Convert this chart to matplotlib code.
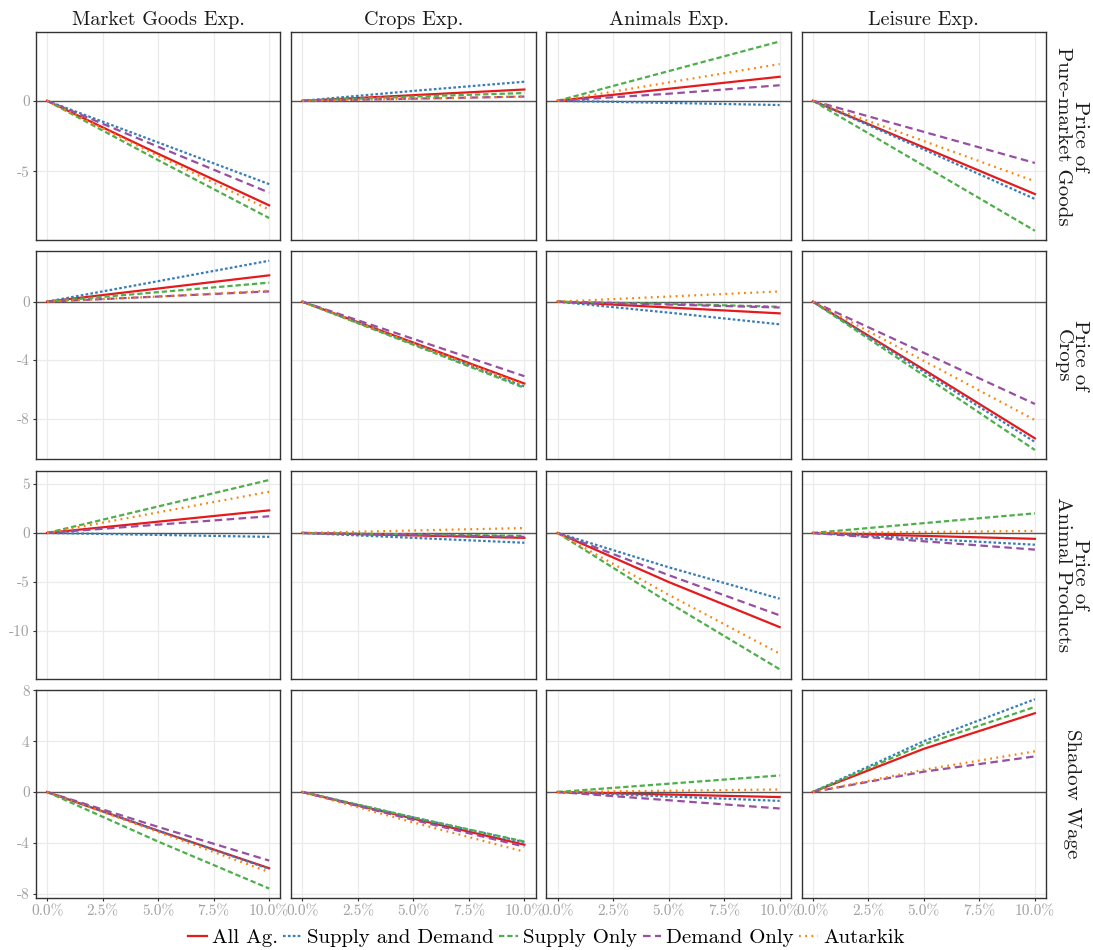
import numpy as np
import matplotlib
matplotlib.use('Agg')
import matplotlib.pyplot as plt

plt.rcParams['font.family'] = ['cmr10', 'DejaVu Serif']
plt.rcParams['axes.unicode_minus'] = False
plt.rcParams['axes.formatter.use_mathtext'] = False

# x positions (share of shock) and labels
x_vals = [0.0, 0.05, 0.10]
x_ticks = [0.0, 0.025, 0.05, 0.075, 0.10]
x_labels = ['0.0%', '2.5%', '5.0%', '7.5%', '10.0%']

col_titles = ['Market Goods Exp.', 'Crops Exp.', 'Animals Exp.', 'Leisure Exp.']
row_titles = ['Price of\nPure-market Goods', 'Price of\nCrops', 'Price of\nAnimal Products', 'Shadow Wage']
row_yticks = [[-5, 0], [-8, -4, 0], [-10, -5, 0, 5], [-8, -4, 0, 4, 8]]

series_names = ['All Ag.', 'Supply and Demand', 'Supply Only', 'Demand Only', 'Autarkik']
series_colors = ['#E41A1C', '#377EB8', '#4DAF4A', '#984EA3', '#FF7F00']
series_dashes = [None, (1.2, 1.0), (2.4, 1.3), (3.4, 2.0), (0.8, 2.0)]

# each list: one entry per column (Market Goods, Crops, Animals, Leisure), values at 0%, 5%, 10%
# row 1: price of pure-market goods
pm_all = [[0, -3.75, -7.4], [0, 0.4, 0.8], [0, 0.85, 1.7], [0, -3.3, -6.6]]
pm_sd = [[0, -2.95, -5.9], [0, 0.7, 1.35], [0, -0.15, -0.3], [0, -3.45, -6.95]]
pm_so = [[0, -4.2, -8.3], [0, 0.3, 0.55], [0, 2.1, 4.2], [0, -4.6, -9.2]]
pm_do = [[0, -3.25, -6.5], [0, 0.15, 0.3], [0, 0.5, 1.1], [0, -2.2, -4.4]]
pm_aut = [[0, -3.9, -7.7], [0, 0.15, 0.3], [0, 1.3, 2.6], [0, -2.85, -5.7]]

# row 2: price of crops
cr_all = [[0, 0.9, 1.8], [0, -2.8, -5.6], [0, -0.4, -0.8], [0, -4.65, -9.35]]
cr_sd = [[0, 1.4, 2.8], [0, -2.9, -5.8], [0, -0.75, -1.55], [0, -4.8, -9.6]]
cr_so = [[0, 0.65, 1.3], [0, -2.95, -5.9], [0, -0.15, -0.35], [0, -5.05, -10.15]]
cr_do = [[0, 0.35, 0.7], [0, -2.55, -5.1], [0, -0.2, -0.4], [0, -3.5, -7.0]]
cr_aut = [[0, 0.35, 0.75], [0, -2.85, -5.7], [0, 0.35, 0.7], [0, -4.05, -8.1]]

# row 3: price of animal products
an_all = [[0, 1.15, 2.3], [0, -0.25, -0.5], [0, -5.0, -9.6], [0, -0.3, -0.6]]
an_sd = [[0, -0.2, -0.4], [0, -0.5, -1.0], [0, -3.5, -6.7], [0, -0.6, -1.2]]
an_so = [[0, 2.7, 5.4], [0, -0.15, -0.3], [0, -7.1, -13.9], [0, 1.0, 2.0]]
an_do = [[0, 0.85, 1.7], [0, -0.2, -0.4], [0, -4.3, -8.4], [0, -0.85, -1.7]]
an_aut = [[0, 2.1, 4.2], [0, 0.25, 0.5], [0, -6.3, -12.3], [0, 0.1, 0.2]]

# row 4: shadow wage
sw_all = [[0, -3.05, -6.0], [0, -2.1, -4.15], [0, -0.2, -0.4], [0, 3.4, 6.2]]
sw_sd = [[0, -3.05, -6.05], [0, -2.0, -3.95], [0, -0.35, -0.7], [0, 4.0, 7.3]]
sw_so = [[0, -3.9, -7.6], [0, -2.0, -3.9], [0, 0.65, 1.3], [0, 3.75, 6.7]]
sw_do = [[0, -2.75, -5.4], [0, -2.2, -4.3], [0, -0.65, -1.3], [0, 1.6, 2.8]]
sw_aut = [[0, -3.15, -6.3], [0, -2.4, -4.7], [0, 0.1, 0.2], [0, 1.75, 3.2]]

rows = [
    [pm_all, pm_sd, pm_so, pm_do, pm_aut],
    [cr_all, cr_sd, cr_so, cr_do, cr_aut],
    [an_all, an_sd, an_so, an_do, an_aut],
    [sw_all, sw_sd, sw_so, sw_do, sw_aut],
]

fig, axes = plt.subplots(4, 4, figsize=(10.93, 9.5), dpi=100, sharex=True)
fig.subplots_adjust(left=36/1093, right=1046/1093, top=1-32/950, bottom=1-898/950,
                    wspace=0.045, hspace=0.053)

tick_col = '#a0a0a0'
grid_col = '#ebebeb'

for r in range(4):
    vals = np.array(rows[r], dtype=float)
    lo, hi = vals.min(), vals.max()
    pad = (hi - lo) * 0.05
    for c in range(4):
        ax = axes[r, c]
        ax.axhline(0, color='#555555', lw=1.0, zorder=1)
        lines = []
        for s in range(5):
            ln, = ax.plot(x_vals, rows[r][s][c], color=series_colors[s], lw=1.6,
                          label=series_names[s], zorder=3)
            if series_dashes[s] is not None:
                ln.set_dashes(series_dashes[s])
            lines.append(ln)
        ax.set_xlim(-0.005, 0.105)
        ax.set_ylim(lo - pad, hi + pad)
        ax.set_xticks(x_ticks)
        ax.set_yticks(row_yticks[r])
        ax.grid(True, color=grid_col, lw=0.9, zorder=0)
        ax.set_axisbelow(True)
        for sp in ax.spines.values():
            sp.set_color('#333333')
            sp.set_linewidth(1.0)
        ax.tick_params(length=2.5, width=0.8, color='#333333', labelcolor=tick_col,
                       labelsize=11, pad=2)
        if c == 0:
            ax.set_yticklabels([str(v) for v in row_yticks[r]])
        else:
            ax.tick_params(axis='y', left=False, labelleft=False)
        if r == 3:
            ax.set_xticklabels(x_labels)
        else:
            ax.tick_params(axis='x', bottom=False, labelbottom=False)
        if r == 0:
            ax.set_title(col_titles[c], fontsize=14.5, color='#1a1a1a', pad=5)
        if c == 3:
            ax.text(1.105, 0.5, row_titles[r], transform=ax.transAxes, rotation=270,
                    ha='center', va='center', fontsize=15, color='#1a1a1a',
                    linespacing=0.95)

fig.legend(lines, series_names, loc='lower center', bbox_to_anchor=(0.5, -0.01), ncol=5,
           frameon=False, fontsize=15, handlelength=0.9, handletextpad=0.25,
           columnspacing=0.25, borderaxespad=0.2)

fig.savefig('out.png', dpi=100)
